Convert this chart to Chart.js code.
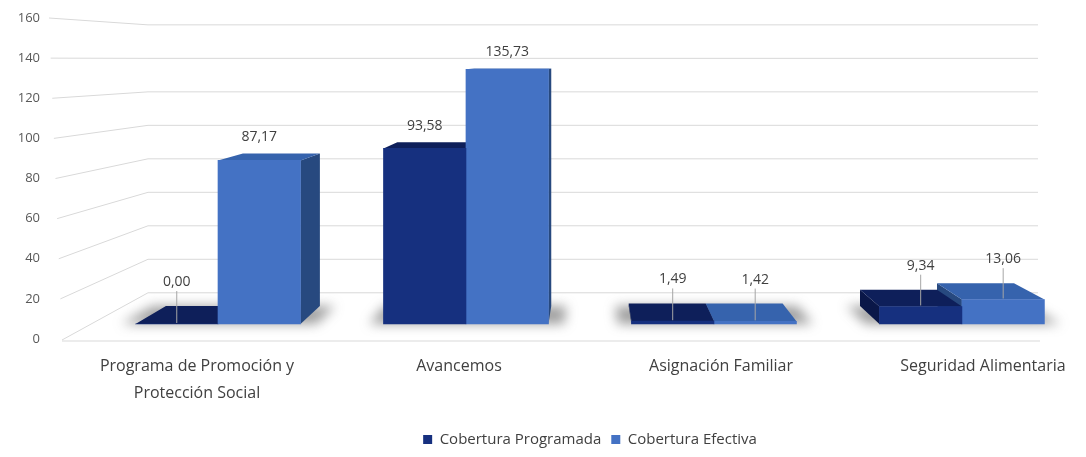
<!DOCTYPE html>
<html>
<head>
<meta charset="utf-8">
<script src="https://cdn.jsdelivr.net/npm/chart.js@4.4.1/dist/chart.umd.min.js"></script>
<style>
  html, body { margin: 0; padding: 0; background: #fff; }
  #wrap { width: 1086px; height: 457px; }
</style>
</head>
<body>
<div id="wrap"><canvas id="chart"></canvas></div>
<script>
// data
const categories = [
  ["Programa de Promoción y", "Protección Social"],
  "Avancemos",
  "Asignación Familiar",
  "Seguridad Alimentaria"
];
const coberturaProgramada = [0.00, 93.58, 1.49, 9.34];
const coberturaEfectiva = [87.17, 135.73, 1.42, 13.06];
const yTickMax = 160;
const yTickStep = 20;

// faces of the fake 3d boxes
const faceColors = [
  { front: "#16307f", top: "#0e1f5a", side: "#0a1748" },
  { front: "#4472c4", top: "#3663ad", side: "#27497f" }
];
const DEPTH = 0.067;
const BAR_WIDTH = 82.5;
// where the perspective gridlines start / turn / end (px)
const frame = { labelEdge: 62, wallLeft: 148, wallRight: 1038 };

const fmt = v => v.toFixed(2).replace(".", ",");

const depthPlugin = {
  id: "depth",
  beforeDatasetsDraw(chart) {
    const ctx = chart.ctx;
    const area = chart.chartArea;
    const y = chart.scales.y;
    const wall = chart.scales.yw;
    const vp = { x: chart.scales.xb.getPixelForValue(1.5), y: area.top + 38 };
    const back = (px, py) => [px + (vp.x - px) * DEPTH, py + (vp.y - py) * DEPTH];

    ctx.save();
    // gridlines: short slant from the label to the back wall, then along the wall
    ctx.strokeStyle = "#d9d9d9";
    ctx.lineWidth = 1;
    for (let v = 0; v <= yTickMax; v += yTickStep) {
      const y1 = y.getPixelForValue(v) + (v === 0 ? 1 : 0);
      const y2 = wall.getPixelForValue(v);
      ctx.beginPath();
      ctx.moveTo(frame.labelEdge - 13 * v / yTickMax, y1);
      ctx.lineTo(frame.wallLeft, y2);
      ctx.lineTo(frame.wallRight, y2);
      ctx.stroke();
    }
    // front edge of the floor
    const y0 = y.getPixelForValue(0) + 2;
    ctx.beginPath();
    ctx.moveTo(frame.labelEdge, y0);
    ctx.lineTo(frame.wallRight + 2, y0);
    ctx.stroke();

    const metas = chart.data.datasets.map((d, i) => chart.getDatasetMeta(i));

    // soft floor shadows under each group
    ctx.save();
    ctx.filter = "blur(6px)";
    ctx.fillStyle = "rgba(80,80,80,0.55)";
    categories.forEach((c, i) => {
      const els = metas.map(m => m.data[i]);
      const L = Math.min(...els.map(e => e.x - e.width / 2)) - 14;
      const R = Math.max(...els.map(e => e.x + e.width / 2)) + 16;
      const base = els[0].base;
      const bl = back(L, base), br = back(R, base);
      ctx.beginPath();
      ctx.moveTo(L, base);
      ctx.lineTo(R, base);
      ctx.lineTo(br[0], br[1]);
      ctx.lineTo(bl[0], bl[1]);
      ctx.closePath();
      ctx.fill();
    });
    ctx.restore();

    // side faces first
    metas.forEach((m, d) => {
      m.data.forEach(el => {
        const L = el.x - el.width / 2, R = el.x + el.width / 2;
        const sx = R < vp.x ? R : (L > vp.x ? L : null);
        if (sx === null) return;
        const bt = back(sx, el.y), bb = back(sx, el.base);
        ctx.fillStyle = faceColors[d].side;
        ctx.beginPath();
        ctx.moveTo(sx, el.y);
        ctx.lineTo(sx, el.base);
        ctx.lineTo(bb[0], bb[1]);
        ctx.lineTo(bt[0], bt[1]);
        ctx.closePath();
        ctx.fill();
      });
    });

    // then top faces, lowest first
    const tops = [];
    metas.forEach((m, d) => m.data.forEach((el, i) => tops.push({ el, d, v: chart.data.datasets[d].data[i].y })));
    tops.sort((a, b) => a.v - b.v);
    tops.forEach(({ el, d }) => {
      const L = el.x - el.width / 2, R = el.x + el.width / 2;
      const bl = back(L, el.y), br = back(R, el.y);
      ctx.fillStyle = faceColors[d].top;
      ctx.beginPath();
      ctx.moveTo(L, el.y);
      ctx.lineTo(R, el.y);
      ctx.lineTo(br[0], br[1]);
      ctx.lineTo(bl[0], bl[1]);
      ctx.closePath();
      ctx.fill();
    });
    ctx.restore();
  },
  afterDatasetsDraw(chart) {
    const ctx = chart.ctx;
    const area = chart.chartArea;
    const vpy = area.top + 38;
    ctx.save();
    ctx.font = "14px 'Open Sans'";
    ctx.textAlign = "center";
    ctx.textBaseline = "middle";
    chart.data.datasets.forEach((ds, d) => {
      chart.getDatasetMeta(d).data.forEach((el, i) => {
        const v = ds.data[i].y;
        const by = el.y + (vpy - el.y) * DEPTH;
        let ly;
        if (v < 20) {
          ly = by - 24;
          ctx.strokeStyle = "#a6a6a6";
          ctx.lineWidth = 1;
          ctx.beginPath();
          ctx.moveTo(el.x, ly + 9);
          ctx.lineTo(el.x, el.y - 1);
          ctx.stroke();
        } else {
          ly = by - 16;
        }
        ctx.fillStyle = "#404040";
        ctx.fillText(fmt(v), el.x, ly);
      });
    });
    ctx.restore();
  }
};

new Chart(document.getElementById("chart"), {
  type: "bar",
  data: {
    labels: categories,
    datasets: [
      {
        label: "Cobertura Programada",
        data: coberturaProgramada.map((v, i) => ({ x: i, y: v })),
        backgroundColor: faceColors[0].front,
        barThickness: BAR_WIDTH,
        clip: false,
        xAxisID: "xb",
        yAxisID: "yb"
      },
      {
        label: "Cobertura Efectiva",
        data: coberturaEfectiva.map((v, i) => ({ x: i, y: v })),
        backgroundColor: faceColors[1].front,
        barThickness: BAR_WIDTH,
        clip: false,
        xAxisID: "xb",
        yAxisID: "yb"
      }
    ]
  },
  options: {
    responsive: true,
    maintainAspectRatio: false,
    animation: false,
    layout: { padding: { top: 18, left: 0, right: 103, bottom: 0 } },
    scales: {
      // category labels sit on the front edge, spread wider than the bars
      x: {
        type: "category",
        offset: false,
        grid: { display: false },
        border: { display: false },
        ticks: {
          color: "#404040",
          font: { family: "'Open Sans'", size: 16, lineHeight: 1.7 },
          padding: 6,
          maxRotation: 0,
          autoSkip: false
        },
        afterFit(s) { s.height = 83; }
      },
      // bars stand further back, so they sit a little closer together
      xb: {
        type: "linear",
        display: false,
        offset: false,
        min: -0.0847,
        max: 3.085,
        ticks: { stepSize: 1 }
      },
      y: {
        min: 0,
        max: yTickMax,
        grid: { display: false, drawTicks: false },
        border: { display: false },
        ticks: {
          stepSize: yTickStep,
          color: "#595959",
          font: { family: "'Open Sans'", size: 13 },
          padding: 157
        },
        afterFit(s) {
          s.width = 197;
          s.paddingTop = 0;
          s.paddingBottom = 0;
        }
      },
      yb: { type: "linear", display: false, min: -8.0, max: 163.1 },
      yw: { type: "linear", display: false, min: -27.6, max: 164.1 }
    },
    plugins: {
      legend: {
        position: "bottom",
        fullSize: false,
        labels: {
          color: "#404040",
          font: { family: "'Open Sans'", size: 15 },
          boxWidth: 9,
          boxHeight: 9,
          padding: 10
        }
      },
      tooltip: { enabled: false }
    }
  },
  plugins: [depthPlugin]
});
</script>
</body>
</html>
